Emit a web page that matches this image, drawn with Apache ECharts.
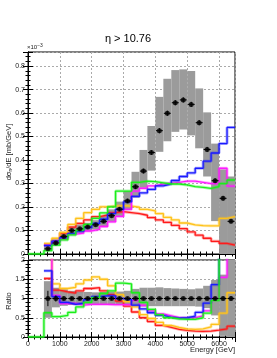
<!DOCTYPE html>
<html><head><meta charset="utf-8">
<script src="https://cdn.jsdelivr.net/npm/echarts@6/dist/echarts.min.js"></script>
<style>html,body{margin:0;padding:0;background:#fff}#c{width:277px;height:358px}</style>
</head><body><div id="c"></div>
<script>
// ---------- data ----------
const binEdges = [500,750,1000,1250,1500,1750,2000,2250,2500,2750,3000,3250,3500,3750,4000,4250,4500,4750,5000,5250,5500,5750,6000,6250,6500];
const dataVals = [0.022,0.047,0.075,0.100,0.107,0.115,0.124,0.139,0.163,0.191,0.226,0.286,0.353,0.432,0.525,0.599,0.644,0.656,0.637,0.559,0.445,0.312,0.237,0.139];
const dataErr  = [0.006,0.007,0.007,0.007,0.007,0.007,0.007,0.007,0.008,0.008,0.009,0.009,0.010,0.010,0.011,0.011,0.011,0.011,0.011,0.011,0.011,0.010,0.010,0.009];
const bandLo = [0.012,0.036,0.061,0.083,0.090,0.097,0.104,0.117,0.137,0.160,0.187,0.240,0.282,0.355,0.435,0.480,0.520,0.530,0.505,0.450,0.330,0.140,0.000,0.000];
const bandHi = [0.033,0.060,0.093,0.117,0.125,0.133,0.144,0.161,0.190,0.223,0.268,0.350,0.443,0.545,0.669,0.746,0.783,0.786,0.779,0.705,0.603,0.470,0.360,0.330];
const mBlue    = [0.036,0.055,0.070,0.087,0.097,0.112,0.130,0.148,0.172,0.190,0.222,0.245,0.260,0.275,0.290,0.298,0.313,0.330,0.345,0.365,0.395,0.430,0.470,0.539];
const mMagenta = [0.037,0.050,0.065,0.085,0.089,0.098,0.105,0.117,0.137,0.160,0.190,0.268,0.280,0.290,0.298,0.302,0.305,0.310,0.310,0.305,0.300,0.300,0.365,0.289];
const mGreen   = [0.014,0.038,0.060,0.081,0.102,0.126,0.152,0.175,0.201,0.268,0.268,0.305,0.310,0.308,0.303,0.298,0.298,0.294,0.287,0.284,0.279,0.287,0.300,0.315];
const mOrange  = [0.045,0.067,0.092,0.126,0.152,0.176,0.190,0.201,0.204,0.206,0.204,0.199,0.190,0.184,0.172,0.156,0.145,0.132,0.124,0.121,0.120,0.120,0.152,0.159];
const mRed     = [0.038,0.057,0.088,0.114,0.130,0.145,0.159,0.166,0.176,0.180,0.176,0.172,0.165,0.155,0.145,0.135,0.122,0.108,0.094,0.080,0.067,0.054,0.045,0.038];
const greenZeroEdges = [0,250];
// ratio panel
const ratioVals  = [1,1,1,1,1,1,1,1,1,1,1,1,1,1,1,1,1,1,1,1,1,1,1,1];
const ratioErr   = [0.2,0.08,0.05,0.04,0.04,0.04,0.04,0.04,0.04,0.04,0.04,0.03,0.03,0.03,0.03,0.03,0.03,0.03,0.03,0.03,0.03,0.04,0.05,0.06];
const rBandLo = [0.50,0.77,0.81,0.83,0.84,0.85,0.85,0.85,0.84,0.84,0.83,0.81,0.79,0.80,0.80,0.80,0.80,0.80,0.80,0.79,0.75,0.56,0.03,0.00];
const rBandHi = [1.45,1.28,1.24,1.20,1.18,1.17,1.16,1.17,1.18,1.18,1.20,1.25,1.28,1.28,1.29,1.27,1.26,1.25,1.24,1.26,1.33,1.48,1.62,2.00];
const rBlue    = [1.72,1.05,0.90,0.85,0.88,0.97,1.05,1.07,1.07,1.00,0.97,0.83,0.73,0.63,0.56,0.51,0.49,0.50,0.54,0.64,0.88,1.36,2.10,2.10];
const rMagenta = [2.10,1.08,0.87,0.87,0.83,0.85,0.85,0.85,0.84,0.84,0.84,0.95,0.82,0.68,0.60,0.55,0.50,0.50,0.50,0.55,0.68,1.00,1.55,2.10];
const rGreen   = [0.63,0.53,0.56,0.64,0.78,0.90,1.02,1.13,1.20,1.40,1.38,1.15,0.90,0.72,0.58,0.50,0.47,0.46,0.46,0.50,0.62,0.95,2.10,2.10];
const rOrange  = [2.10,1.38,1.26,1.29,1.38,1.48,1.56,1.50,1.33,1.10,0.92,0.78,0.58,0.48,0.38,0.30,0.25,0.21,0.20,0.21,0.26,0.33,0.62,1.15];
const rRed     = [1.52,1.22,1.17,1.14,1.20,1.26,1.28,1.20,1.10,0.93,0.80,0.65,0.50,0.40,0.30,0.25,0.20,0.17,0.155,0.145,0.155,0.18,0.21,0.28];
const xTicks = [0,1000,2000,3000,4000,5000,6000];

// ---------- helpers ----------
function steps(vals, zeroEdges) {
  const pts = [];
  if (zeroEdges) zeroEdges.forEach(e => pts.push([e, 0]));
  vals.forEach((v, i) => pts.push([binEdges[i], v]));
  pts.push([binEdges[binEdges.length - 1], vals[vals.length - 1]]);
  return pts;
}
function centers() { return dataVals.map((v, i) => (binEdges[i] + binEdges[i + 1]) / 2); }

const chart = echarts.init(document.getElementById('c'), null, {renderer: 'canvas'});
const FONT = 'Liberation Sans, Arial, Helvetica, sans-serif';
const lab = {color: '#222', fontFamily: FONT, fontSize: 7};

function bandSeries(lo, hi, axisIndex) {
  return {
    type: 'custom', xAxisIndex: axisIndex, yAxisIndex: axisIndex, z: 1, silent: true,
    data: lo.map((l, i) => [binEdges[i], binEdges[i + 1], l, hi[i]]),
    renderItem: function (params, api) {
      const p0 = api.coord([api.value(0), api.value(3)]);
      const p1 = api.coord([api.value(1), api.value(2)]);
      const shape = echarts.graphic.clipRectByRect(
        {x: p0[0], y: p0[1], width: p1[0] - p0[0], height: p1[1] - p0[1]},
        {x: params.coordSys.x, y: params.coordSys.y, width: params.coordSys.width, height: params.coordSys.height});
      return shape && {type: 'rect', shape: shape, style: {fill: '#9b9b9b'}};
    }
  };
}
function lineSeries(vals, color, axisIndex, zeroEdges, z) {
  const d = steps(vals, zeroEdges);
  return [
    {type: 'line', xAxisIndex: axisIndex, yAxisIndex: axisIndex, step: 'end', data: d, symbol: 'none', clip: true, silent: true, z: z,
     lineStyle: {color: color, width: 3, opacity: 0.35}},
    {type: 'line', xAxisIndex: axisIndex, yAxisIndex: axisIndex, step: 'end', data: d, symbol: 'none', clip: true, silent: true, z: z + 0.5,
     lineStyle: {color: color, width: 1.3}}
  ];
}
function pointsSeries(vals, errs, axisIndex, size) {
  const c = centers();
  return [
    {type: 'custom', xAxisIndex: axisIndex, yAxisIndex: axisIndex, z: 20, silent: true,
     data: vals.map((v, i) => [c[i], v, errs[i], binEdges[i], binEdges[i + 1]]),
     renderItem: function (params, api) {
       const pc = api.coord([api.value(0), api.value(1)]);
       const pl = api.coord([api.value(3), api.value(1)]);
       const pr = api.coord([api.value(4), api.value(1)]);
       const pt = api.coord([api.value(0), api.value(1) + api.value(2)]);
       const pb = api.coord([api.value(0), api.value(1) - api.value(2)]);
       return {type: 'group', children: [
         {type: 'line', shape: {x1: pl[0] + 0.5, y1: pc[1], x2: pr[0] - 0.5, y2: pc[1]}, style: {stroke: '#000', lineWidth: 1}},
         {type: 'line', shape: {x1: pc[0], y1: pt[1], x2: pc[0], y2: pb[1]}, style: {stroke: '#000', lineWidth: 1}}
       ]};
     }},
    {type: 'scatter', xAxisIndex: axisIndex, yAxisIndex: axisIndex, z: 21, silent: true,
     data: vals.map((v, i) => [c[i], v]), symbol: 'circle', symbolSize: size, itemStyle: {color: '#000'}}
  ];
}

function xAxisDef(gridIndex, showLabels, position) {
  return {
    type: 'value', gridIndex: gridIndex, min: 0, max: 6500, interval: 1000, position: position,
    axisLine: {show: true, lineStyle: {color: '#000', width: 1}},
    axisTick: {show: true, inside: true, length: 5, lineStyle: {color: '#000'}},
    minorTick: {show: true, splitNumber: 5, length: 2.5, lineStyle: {color: '#000'}},
    axisLabel: {show: showLabels, ...lab, margin: 4, showMaxLabel: false,
      formatter: v => (v % 1000 === 0 ? String(v) : '')},
    splitLine: {show: position === 'bottom', lineStyle: {color: '#aaa', type: [2, 2], width: 1}}
  };
}
function yAxisDef(gridIndex, min, max, interval, fmt, position, showLabels) {
  return {
    type: 'value', gridIndex: gridIndex, min: min, max: max, interval: interval, position: position,
    axisLine: {show: true, lineStyle: {color: '#000', width: 1}},
    axisTick: {show: true, inside: true, length: 5, lineStyle: {color: '#000'}},
    minorTick: {show: true, splitNumber: 5, length: 2.5, lineStyle: {color: '#000'}},
    axisLabel: {show: showLabels, ...lab, margin: 3, formatter: fmt},
    splitLine: {show: position === 'left', lineStyle: {color: '#aaa', type: [2, 2], width: 1}}
  };
}
const topFmt = v => { const k = Math.round(v * 10); return Math.abs(v * 10 - k) < 1e-6 ? (k === 0 ? '0' : (k / 10).toFixed(1)) : ''; };
const botFmt = v => { const k = Math.round(v * 2); return Math.abs(v * 2 - k) < 1e-6 ? String(k / 2) : ''; };

const option = {
  animation: false,
  backgroundColor: '#fff',
  grid: [
    {left: 28, right: 42, top: 52, height: 202, show: true, borderColor: '#000', borderWidth: 1, backgroundColor: 'transparent'},
    {left: 28, right: 42, top: 260, height: 77, show: true, borderColor: '#000', borderWidth: 1, backgroundColor: 'transparent'}
  ],
  xAxis: [
    xAxisDef(0, false, 'bottom'),
    xAxisDef(1, true, 'bottom'),
    xAxisDef(0, false, 'top'),
    xAxisDef(1, false, 'top')
  ],
  yAxis: [
    yAxisDef(0, 0, 0.86, 0.1, topFmt, 'left', true),
    yAxisDef(1, 0, 2, 0.5, botFmt, 'left', true),
    yAxisDef(0, 0, 0.86, 0.1, topFmt, 'right', false),
    yAxisDef(1, 0, 2, 0.5, botFmt, 'right', false)
  ],
  title: {
    text: 'η > 10.76', left: 123, top: 28, textAlign: 'center',
    textStyle: {fontFamily: FONT, fontSize: 11, fontWeight: 'normal', color: '#000'}
  },
  graphic: [
    {type: 'text', left: 27, top: 43, style: {text: '×10{s|−3}', fontFamily: FONT, fontSize: 6, fill: '#222',
      rich: {s: {fontSize: 5, verticalAlign: 'top', padding: [0, 0, 3, 0]}}}},
    {type: 'text', x: 9, y: 152, rotation: Math.PI / 2,
     style: {text: 'dσ{s|n}/dE [mb/GeV]', fontFamily: FONT, fontSize: 7.5, fill: '#222', align: 'center', verticalAlign: 'middle',
       rich: {s: {fontSize: 5, padding: [4, 0, 0, 0]}}}},
    {type: 'text', x: 9, y: 301, rotation: Math.PI / 2,
     style: {text: 'Ratio', fontFamily: FONT, fontSize: 7.5, fill: '#222', align: 'center', verticalAlign: 'middle'}},
    {type: 'text', x: 235, y: 350, style: {text: 'Energy [GeV]', fontFamily: FONT, fontSize: 7.5, fill: '#222', align: 'right', verticalAlign: 'middle'}}
  ],
  series: [
    bandSeries(bandLo, bandHi, 0),
    ...lineSeries(mRed, '#ff1a1a', 0, null, 3),
    ...lineSeries(mOrange, '#ffc21a', 0, null, 4),
    ...lineSeries(mMagenta, '#ff1aff', 0, null, 5),
    ...lineSeries(mBlue, '#1a1aff', 0, null, 6),
    ...lineSeries(mGreen, '#1aee1a', 0, greenZeroEdges, 7),
    ...pointsSeries(dataVals, dataErr, 0, 5),
    bandSeries(rBandLo, rBandHi, 1),
    ...lineSeries(rRed, '#ff1a1a', 1, null, 3),
    ...lineSeries(rOrange, '#ffc21a', 1, null, 4),
    ...lineSeries(rMagenta, '#ff1aff', 1, null, 5),
    ...lineSeries(rBlue, '#1a1aff', 1, null, 6),
    ...lineSeries(rGreen, '#1aee1a', 1, greenZeroEdges, 7),
    ...pointsSeries(ratioVals, ratioErr, 1, 5)
  ]
};
chart.setOption(option);
</script>
</body></html>
